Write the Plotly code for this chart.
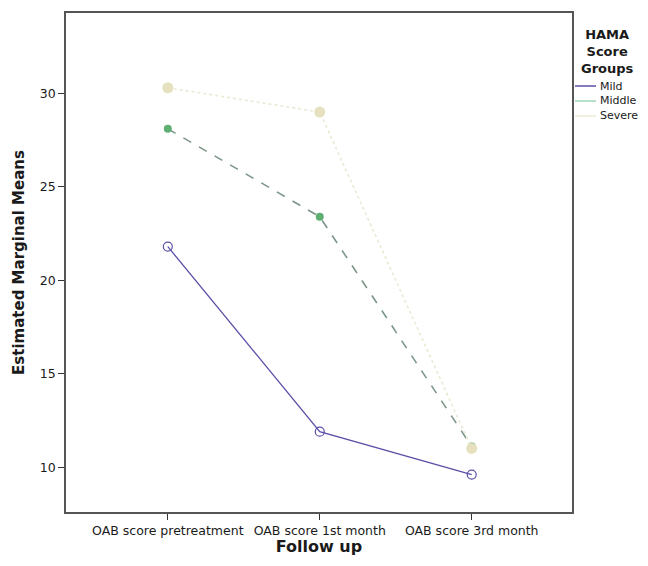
import plotly.graph_objects as go

categories = ["OAB score pretreatment", "OAB score 1st month", "OAB score 3rd month"]
mild = [21.8, 11.9, 9.6]
middle = [28.1, 23.4, 11.1]
severe = [30.3, 29.0, 11.0]
y_ticks = [10, 15, 20, 25, 30]
group_names = ["Mild", "Middle", "Severe"]
legend_colors = ["#5a4fa8", "#9fd6b6", "#ecebd8"]

xi = [0, 1, 2]
series = [
    (mild, "#5a4fa8", "solid", 1.3, dict(symbol="circle-open", size=9, color="#5a4fa8", line=dict(width=1.2))),
    (middle, "#7c9688", "dash", 1.6, dict(symbol="circle", size=8, color="#5fae72")),
    (severe, "#ebe8d4", "dot", 1.6, dict(symbol="circle", size=11, color="#e6e0bf")),
]

fig = go.Figure()
for name, (vals, lc, dash, lw, mk) in zip(group_names, series):
    fig.add_trace(go.Scatter(x=xi, y=vals, name=name, mode="lines",
                             line=dict(color=lc, width=lw, dash=dash), showlegend=False))
    fig.add_trace(go.Scatter(x=xi, y=vals, name=name, mode="markers",
                             marker=mk, showlegend=False))

# figure layout (page body has an 8px default margin)
W, H = 636, 548
L, R, T, B = 58, 72, 5, 44
pw, ph = W - L - R, H - T - B

def px(xf):
    return (xf - L) / pw

def py(yf):
    return 1 - (yf - T) / ph

annotations = [dict(text="<b>HAMA<br>Score<br>Groups</b>", xref="paper", yref="paper",
                    x=px(599), y=py(17), xanchor="center", yanchor="top", showarrow=False,
                    font=dict(size=13, color="#1a1a1a"), align="center")]
shapes = []
for i, (name, col) in enumerate(zip(group_names, legend_colors)):
    yy = 78 + 15 * i
    shapes.append(dict(type="line", xref="paper", yref="paper", x0=px(567), x1=px(588),
                       y0=py(yy), y1=py(yy), line=dict(color=col, width=1.5)))
    annotations.append(dict(text=name, xref="paper", yref="paper", x=px(590), y=py(yy),
                            xanchor="left", yanchor="middle", showarrow=False,
                            font=dict(size=11, color="#1a1a1a")))

fig.update_layout(
    width=W, height=H,
    margin=dict(l=L, r=R, t=T, b=B, autoexpand=False),
    paper_bgcolor="white", plot_bgcolor="white",
    font=dict(family="DejaVu Sans", size=12.5, color="#1a1a1a"),
    showlegend=False,
    annotations=annotations, shapes=shapes,
)
fig.update_xaxes(
    range=[-0.67, 2.66], tickmode="array", tickvals=xi, ticktext=categories,
    showline=True, linecolor="#555555", linewidth=1.5, mirror=True,
    ticks="outside", ticklen=6, tickcolor="#333333", showgrid=False, zeroline=False,
    title=dict(text="<b>Follow up</b>", font=dict(size=16), standoff=5),
)
fig.update_yaxes(
    range=[7.6, 34.3], tickmode="array", tickvals=y_ticks,
    showline=True, linecolor="#555555", linewidth=1.5, mirror=True,
    ticks="outside", ticklen=6, tickcolor="#333333", showgrid=False, zeroline=False,
    title=dict(text="<b>Estimated Marginal Means</b>", font=dict(size=15), standoff=12),
)
fig.write_html("out.html")
